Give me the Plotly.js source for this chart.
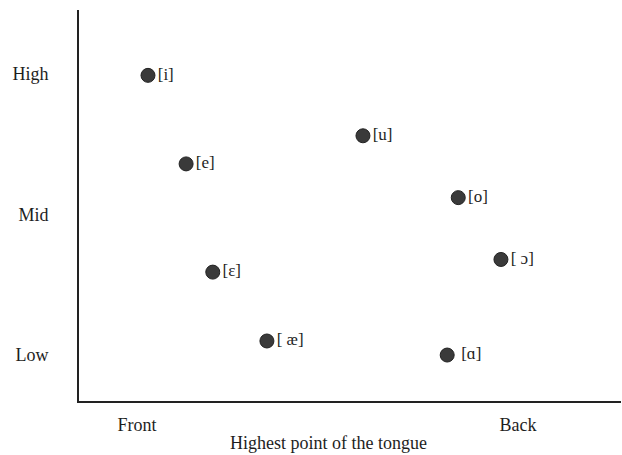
<!DOCTYPE html>
<html>
<head>
<meta charset="utf-8">
<script src="https://cdn.plot.ly/plotly-3.0.1.min.js"></script>
<style>html,body{margin:0;padding:0;background:#fff;}#chart{width:622px;height:455px;}</style>
</head>
<body>
<div id="chart"></div>
<script>
// Vowel chart data (x: 1 = Front, 2 = Back; y: 1 = Low, 2 = Mid, 3 = High)
const vowelLabels = ["[i]", "[e]", "[ɛ]", "[ æ]", "[u]", "[o]", "[ ɔ]", " [ɑ]"];
const frontBack = [1.029, 1.129, 1.199, 1.341, 1.593, 1.843, 1.955, 1.814];
const height = [2.99, 2.36, 1.59, 1.10, 2.56, 2.12, 1.68, 1.00];
const xTickVals = [1, 2];
const xTickText = ["Front", "Back"];
const yTickVals = [1, 2, 3];
const yTickText = ["Low", "Mid", "High"];
const xTitle = "Highest point of the tongue";

const serif = "Liberation Serif, Times New Roman, serif";

const trace = {
  type: "scatter",
  mode: "markers+text",
  x: frontBack,
  y: height,
  text: vowelLabels,
  textposition: "middle right",
  textfont: {family: serif, size: 17, color: "#1e1e1e"},
  marker: {size: 14, color: "#3a3a3a", line: {color: "#222", width: 1}},
  cliponaxis: false,
  hoverinfo: "skip"
};

const layout = {
  width: 622,
  height: 455,
  margin: {l: 79, r: 1, t: 10, b: 54},
  paper_bgcolor: "#fff",
  plot_bgcolor: "#fff",
  showlegend: false,
  font: {family: serif, size: 17, color: "#1e1e1e"},
  xaxis: {
    range: [0.848, 2.270],
    tickvals: xTickVals,
    ticktext: xTickText,
    showgrid: false,
    zeroline: false,
    showline: true,
    linecolor: "#222",
    linewidth: 2,
    ticks: "",
    ticklabelstandoff: 6,
    tickfont: {family: serif, size: 18, color: "#1e1e1e"},
    automargin: false,
    fixedrange: true
  },
  yaxis: {
    range: [0.673, 3.455],
    tickvals: yTickVals,
    ticktext: yTickText,
    showgrid: false,
    zeroline: false,
    showline: true,
    linecolor: "#222",
    linewidth: 2,
    ticks: "",
    ticklabelstandoff: 25,
    tickfont: {family: serif, size: 18, color: "#1e1e1e"},
    automargin: false,
    fixedrange: true
  },
  annotations: [{
    text: xTitle,
    xref: "paper", yref: "paper",
    x: 0.461, y: -0.107,
    xanchor: "center", yanchor: "middle",
    showarrow: false,
    font: {family: serif, size: 18, color: "#1e1e1e"}
  }]
};

Plotly.newPlot("chart", [trace], layout, {displayModeBar: false, staticPlot: true});
</script>
</body>
</html>
